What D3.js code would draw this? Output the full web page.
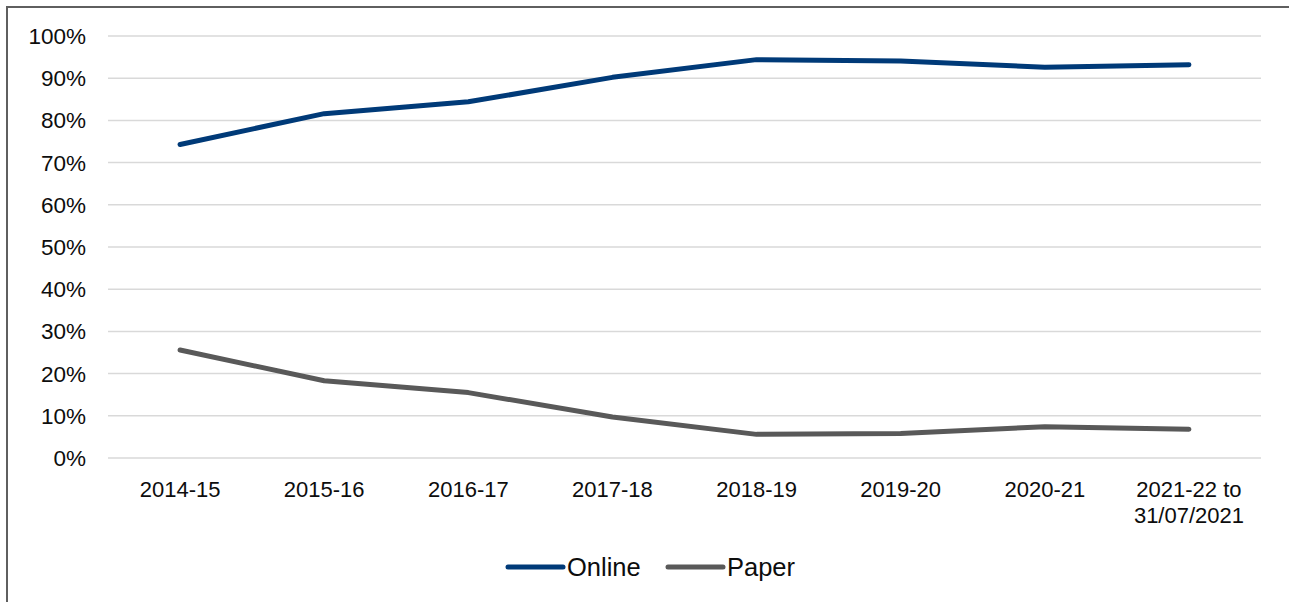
<!DOCTYPE html>
<html>
<head>
<meta charset="UTF-8">
<title>Online vs Paper</title>
<script src="https://cdnjs.cloudflare.com/ajax/libs/d3/7.8.5/d3.min.js"></script>
<style>
  body { margin: 0; background: #fff; }
  svg { display: block; }
  text { font-family: "Liberation Sans", Arial, sans-serif; fill: #0d0d0d; }
</style>
</head>
<body>
<div id="chart"></div>
<script>
var years = ["2014-15", "2015-16", "2016-17", "2017-18", "2018-19", "2019-20", "2020-21", "2021-22 to\n31/07/2021"];
var online = [74.3, 81.6, 84.4, 90.2, 94.4, 94.1, 92.6, 93.2];
var paper = [25.6, 18.3, 15.5, 9.7, 5.6, 5.8, 7.4, 6.8];
var yTicks = [0, 10, 20, 30, 40, 50, 60, 70, 80, 90, 100];
var seriesNames = ["Online", "Paper"];
var seriesColors = ["#003a78", "#595959"];

var W = 1289, H = 602,
    plotLeft = 108, plotRight = 1261,
    plotTop = 36, plotBottom = 458;

var svg = d3.select("#chart").append("svg")
    .attr("width", W)
    .attr("height", H);

// outer frame, right/bottom edges run off the picture
svg.append("rect")
    .attr("x", 7).attr("y", 7)
    .attr("width", W + 20).attr("height", H + 20)
    .attr("fill", "none")
    .attr("stroke", "#5f5f5f")
    .attr("stroke-width", 2);

var x = d3.scaleBand().domain(years).range([plotLeft, plotRight]);
var y = d3.scaleLinear().domain([0, 100]).range([plotBottom, plotTop]);

// gridlines
svg.append("g").selectAll("line")
    .data(yTicks)
    .enter().append("line")
    .attr("x1", plotLeft).attr("x2", plotRight)
    .attr("y1", d => y(d)).attr("y2", d => y(d))
    .attr("stroke", "#d9d9d9")
    .attr("stroke-width", 1.5);

// y labels
svg.append("g").selectAll("text")
    .data(yTicks)
    .enter().append("text")
    .attr("x", 86)
    .attr("y", d => y(d) + 8)
    .attr("text-anchor", "end")
    .style("font-size", "22.5px")
    .text(d => d + "%");

// x labels
var xl = svg.append("g").selectAll("text")
    .data(years)
    .enter().append("text")
    .attr("text-anchor", "middle")
    .style("font-size", "22px")
    .attr("transform", d => "translate(" + (x(d) + x.bandwidth() / 2) + ",497)");
xl.selectAll("tspan")
    .data(d => d.split("\n"))
    .enter().append("tspan")
    .attr("x", 0)
    .attr("dy", (d, i) => i ? 26 : 0)
    .text(d => d);

// lines
var line = d3.line()
    .x((d, i) => x(years[i]) + x.bandwidth() / 2)
    .y(d => y(d));

[online, paper].forEach(function(s, k) {
    svg.append("path")
        .datum(s)
        .attr("d", line)
        .attr("fill", "none")
        .attr("stroke", seriesColors[k])
        .attr("stroke-width", 5)
        .attr("stroke-linecap", "round")
        .attr("stroke-linejoin", "round");
});

// legend
var legX = [508, 668];
seriesNames.forEach(function(n, k) {
    var g = svg.append("g").attr("transform", "translate(" + legX[k] + ",567)");
    g.append("line")
        .attr("x1", 0).attr("x2", 55)
        .attr("stroke", seriesColors[k])
        .attr("stroke-width", 5)
        .attr("stroke-linecap", "round");
    g.append("text")
        .attr("x", 59)
        .attr("y", 9)
        .style("font-size", "25.5px")
        .text(n);
});
</script>
</body>
</html>
